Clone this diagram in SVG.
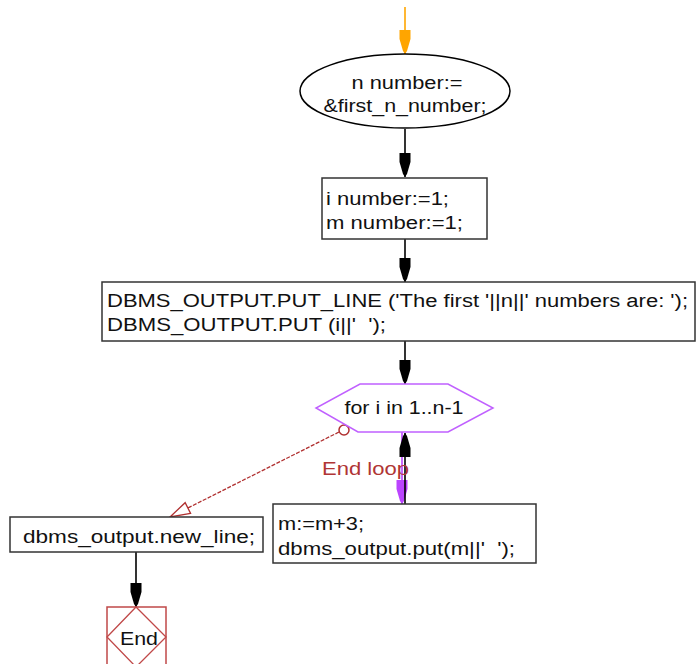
<svg xmlns="http://www.w3.org/2000/svg" width="696" height="664" viewBox="0 0 696 664">
<style>
text{font-family:"Liberation Sans",Arial,sans-serif;font-size:18px;fill:#111;white-space:pre}
.box{fill:#fff;stroke:#333;stroke-width:1.5}
.ln{stroke:#000;stroke-width:1.6;fill:none}
.mid{text-anchor:middle}
</style>
<defs>
<marker id="ab" viewBox="0 -7 25 14" markerWidth="25" markerHeight="14" refX="24" refY="0" orient="auto" markerUnits="userSpaceOnUse">
<polygon points="0,-5.5 9,-5.5 21,-2 24,0 21,2 9,5.5 0,5.5" fill="#000"/>
</marker>
<marker id="ao" viewBox="0 -7 25 14" markerWidth="25" markerHeight="14" refX="24" refY="0" orient="auto" markerUnits="userSpaceOnUse">
<polygon points="0,-5.5 9,-5.5 21,-2 24,0 21,2 9,5.5 0,5.5" fill="#ffa500"/>
</marker>
<marker id="ap" viewBox="0 -7 25 14" markerWidth="25" markerHeight="14" refX="24" refY="0" orient="auto" markerUnits="userSpaceOnUse">
<polygon points="0,-5.5 9,-5.5 21,-2 24,0 21,2 9,5.5 0,5.5" fill="#bb44ff"/>
</marker>
<marker id="ar" viewBox="0 -8 22 16" markerWidth="22" markerHeight="16" refX="21" refY="0" orient="auto" markerUnits="userSpaceOnUse">
<polygon points="1,-6 21,0 1,6" fill="#fff" stroke="#b03030" stroke-width="1.3"/>
</marker>
</defs>

<g id="connectors">
<line x1="405" y1="7" x2="405" y2="54" stroke="#ffa500" stroke-width="1.6" marker-end="url(#ao)"/>
<line class="ln" x1="405" y1="129" x2="405" y2="177" marker-end="url(#ab)"/>
<line class="ln" x1="405" y1="239" x2="405" y2="282" marker-end="url(#ab)"/>
<line class="ln" x1="405" y1="341" x2="405" y2="384" marker-end="url(#ab)"/>
<line x1="402" y1="432" x2="402" y2="504" stroke="#bb44ff" stroke-width="1.6" marker-end="url(#ap)"/>
<line class="ln" x1="405" y1="504" x2="405" y2="433" marker-end="url(#ab)"/>
<line x1="339" y1="432" x2="170" y2="517" stroke="#b03030" stroke-width="1.3" stroke-dasharray="4 1.5" marker-end="url(#ar)"/>
<circle cx="344" cy="430" r="5" fill="#fff" stroke="#b03030" stroke-width="1.5"/>
<line class="ln" x1="136" y1="552" x2="136" y2="607" marker-end="url(#ab)"/>
<text x="322" y="475" textLength="87" lengthAdjust="spacingAndGlyphs" style="fill:#b03535">End loop</text>
</g>

<g id="start">
<ellipse cx="405" cy="91" rx="105" ry="37" fill="#fff" stroke="#000" stroke-width="1.5"/>
<text class="mid" x="407" y="89" textLength="111" lengthAdjust="spacingAndGlyphs">n number:=</text>
<text class="mid" x="405" y="112" textLength="163" lengthAdjust="spacingAndGlyphs">&amp;first_n_number;</text>
</g>

<g id="decl">
<rect class="box" x="322" y="178" width="165" height="61"/>
<text x="326" y="205" textLength="123" lengthAdjust="spacingAndGlyphs">i number:=1;</text>
<text x="326" y="229" textLength="137" lengthAdjust="spacingAndGlyphs">m number:=1;</text>
</g>

<g id="print1">
<rect class="box" x="102" y="282" width="593" height="59"/>
<text x="107" y="307" textLength="581" lengthAdjust="spacingAndGlyphs">DBMS_OUTPUT.PUT_LINE ('The first '||n||' numbers are: ');</text>
<text x="107" y="331" textLength="279" lengthAdjust="spacingAndGlyphs">DBMS_OUTPUT.PUT (i||'  ');</text>
</g>

<g id="loop">
<polygon points="360,384 448,384 493,408 448,432 358,432 316,408" fill="#fff" stroke="#c060ff" stroke-width="1.5"/>
<text class="mid" x="404" y="414" textLength="119" lengthAdjust="spacingAndGlyphs">for i in 1..n-1</text>
</g>

<g id="body">
<rect class="box" x="273" y="504" width="263" height="59"/>
<text x="278" y="530" textLength="86" lengthAdjust="spacingAndGlyphs">m:=m+3;</text>
<text x="278" y="555" textLength="237" lengthAdjust="spacingAndGlyphs">dbms_output.put(m||'  ');</text>
</g>

<g id="newline">
<rect class="box" x="10" y="517" width="253" height="35"/>
<text x="23" y="543" textLength="232" lengthAdjust="spacingAndGlyphs">dbms_output.new_line;</text>
</g>

<g id="end">
<rect x="107" y="607" width="59" height="70" fill="#fff" stroke="#c04848" stroke-width="1.5"/>
<polygon points="136,607 166,637 136,667 107,637" fill="#fff" stroke="#c04848" stroke-width="1.3"/>
<text class="mid" x="139" y="645" textLength="38" lengthAdjust="spacingAndGlyphs">End</text>
</g>
</svg>
